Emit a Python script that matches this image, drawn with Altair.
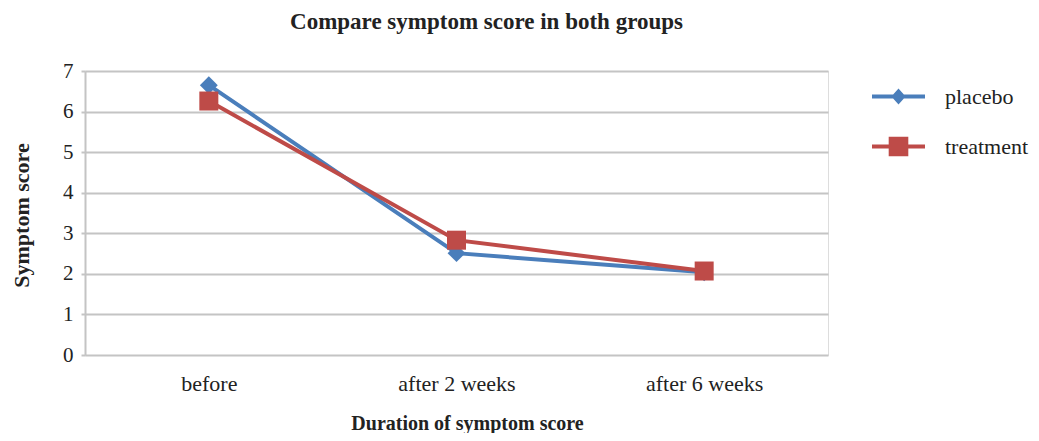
import altair as alt
import pandas as pd

categories = ["before", "after 2 weeks", "after 6 weeks"]
series_names = ["placebo", "treatment"]
placebo = [6.65, 2.51, 2.04]
treatment = [6.26, 2.83, 2.07]
colors = ["#4A7EBB", "#BE4B48"]

rows = []
for c, v in zip(categories, placebo):
    rows.append({"duration": c, "score": v, "group": "placebo"})
for c, v in zip(categories, treatment):
    rows.append({"duration": c, "score": v, "group": "treatment"})
df = pd.DataFrame(rows)

FONT = "Liberation Serif"

x_enc = alt.X(
    "duration:N",
    sort=categories,
    scale=alt.Scale(paddingInner=0, paddingOuter=0),
    axis=alt.Axis(
        title="Duration of symptom score",
        labelAngle=0,
        labelFont=FONT,
        labelFontSize=22,
        labelColor="#222222",
        labelBaseline="alphabetic",
        labelPadding=35,
        ticks=False,
        domain=False,
        grid=False,
        titleFont=FONT,
        titleFontSize=20,
        titleFontWeight="bold",
        titleColor="#222222",
        titleX=382,
        titleY=74,
        titleBaseline="alphabetic",
    ),
)
y_enc = alt.Y(
    "score:Q",
    scale=alt.Scale(domain=[0, 7], nice=False, zero=True),
    axis=alt.Axis(
        title="Symptom score",
        values=[0, 1, 2, 3, 4, 5, 6, 7],
        labelFont=FONT,
        labelFontSize=21,
        labelColor="#222222",
        labelPadding=8,
        tickSize=4,
        tickColor="#c4c4c4",
        tickWidth=2,
        domainColor="#c4c4c4",
        domainWidth=2,
        gridColor="#c4c4c4",
        gridWidth=2,
        titleFont=FONT,
        titleFontSize=22,
        titleFontWeight="bold",
        titleColor="#222222",
        titleAngle=-90,
        titleX=-57,
        titleY=144,
        titleAlign="center",
        titleBaseline="alphabetic",
    ),
)

color_scale = alt.Scale(domain=series_names, range=colors)

legend_paths = [
    "M-1,-0.075H1V0.075H-1Z M0,-0.3L0.27,0L0,0.3L-0.27,0Z",
    "M-1,-0.075H1V0.075H-1Z M-0.37,-0.37H0.37V0.37H-0.37Z",
]

legend_def = alt.Legend(
    title=None,
    orient="none",
    legendX=787,
    legendY=-1,
    symbolSize=2809,
    symbolStrokeWidth=0,
    symbolOpacity=1,
    labelFont=FONT,
    labelFontSize=22,
    labelColor="#222222",
    labelOffset=20,
    labelLimit=0,
    rowPadding=12,
)

base = alt.Chart(df).encode(x=x_enc, y=y_enc)

# layer with no drawn marks that only carries the legend (line + marker symbols)
legend_layer = base.transform_filter("false").mark_point(filled=True).encode(
    color=alt.Color("group:N", scale=color_scale, legend=legend_def),
    shape=alt.Shape(
        "group:N",
        scale=alt.Scale(domain=series_names, range=legend_paths),
        legend=legend_def,
    ),
)

lines = base.mark_line(strokeWidth=4).encode(
    color=alt.Color("group:N", scale=color_scale, legend=None),
    detail="group:N",
)

pts_p = base.transform_filter(alt.datum.group == "placebo").mark_point(
    shape="diamond", filled=True, size=320, opacity=1
).encode(color=alt.Color("group:N", scale=color_scale, legend=None))

pts_t = base.transform_filter(alt.datum.group == "treatment").mark_point(
    shape="square", filled=True, size=361, opacity=1
).encode(color=alt.Color("group:N", scale=color_scale, legend=None))

chart = (
    alt.layer(legend_layer, lines, pts_p, pts_t)
    .properties(
        width=743,
        height=284,
        title=alt.TitleParams(
            text="Compare symptom score in both groups",
            font=FONT,
            fontSize=23,
            fontWeight="bold",
            color="#222222",
            anchor="middle",
            frame="group",
            dx=30,
            dy=-22,
        ),
        autosize=alt.AutoSizeParams(type="none"),
        padding={"left": 77, "top": 63, "right": 203, "bottom": 78},
    )
    .configure_view(fill="#f8f8f8", stroke=None)
    .configure_legend(labelFont=FONT)
    .configure(background="white")
)

chart.save("out.html", embed_options={"renderer": "svg", "actions": False})
